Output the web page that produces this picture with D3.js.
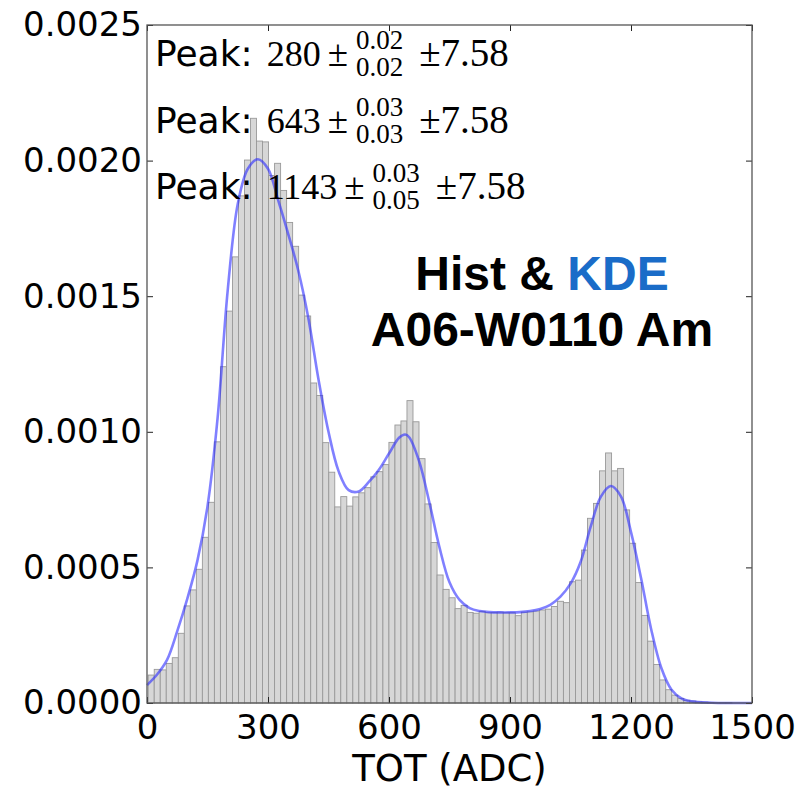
<!DOCTYPE html>
<html>
<head>
<meta charset="utf-8">
<script src="https://cdn.jsdelivr.net/npm/d3@7/dist/d3.min.js"></script>
<style>
  html, body { margin: 0; padding: 0; background: #fff; }
  svg { display: block; }
</style>
</head>
<body>
<svg id="chart" width="807" height="790"></svg>
<script>
// Histogram: 100 equal-width bins between the data min and max (TOT, ADC)
const binLo = 3;
const binHi = 1495;
const binDensity = [
  0.000103, 0.000124, 0.000122, 0.000146, 0.000167, 0.000257, 0.000358, 0.000417, 0.000493, 0.000611,
  0.000740, 0.000963, 0.001240, 0.001445, 0.001645, 0.001870, 0.002002, 0.002156, 0.002072, 0.002069,
  0.001945, 0.001990, 0.001890, 0.001772, 0.001684, 0.001504, 0.001427, 0.001180, 0.001134, 0.000960,
  0.000851, 0.000723, 0.000761, 0.000726, 0.000760, 0.000775, 0.000794, 0.000834, 0.000853, 0.000879,
  0.000961, 0.001025, 0.001040, 0.001115, 0.001037, 0.000901, 0.000734, 0.000592, 0.000472, 0.000419,
  0.000388, 0.000348, 0.000360, 0.000334, 0.000331, 0.000338, 0.000333, 0.000334, 0.000335, 0.000333,
  0.000333, 0.000322, 0.000335, 0.000336, 0.000339, 0.000343, 0.000346, 0.000356, 0.000375, 0.000370,
  0.000447, 0.000453, 0.000564, 0.000681, 0.000736, 0.000856, 0.000922, 0.000856, 0.000865, 0.000712,
  0.000589, 0.000444, 0.000323, 0.000228, 0.000142, 0.000085, 0.000049, 0.000029, 0.000017, 0.000010,
  0.000007, 0.000004, 0.000003, 0.000002, 0.000001, 0.000001, 0.000001, 0, 0, 0
];

// Kernel density estimate sampled along TOT
const kdeX = [0, 25, 50, 75, 100, 125, 150, 175, 200, 225, 250, 275, 300, 325, 350, 375, 400, 425, 450, 475,
  500, 525, 550, 575, 600, 625, 640, 650, 675, 700, 725, 750, 775, 800, 825, 850, 875, 900, 925, 950,
  975, 1000, 1025, 1050, 1075, 1100, 1125, 1150, 1175, 1200, 1225, 1250, 1275, 1300, 1325, 1350, 1400, 1450, 1500];
const kdeY = [0.000066, 0.000105, 0.000160, 0.000265, 0.000385, 0.000525, 0.000725, 0.001050, 0.001520, 0.001840,
  0.001970, 0.002005, 0.001970, 0.001855, 0.001730, 0.001595, 0.001420, 0.001195, 0.001000, 0.000855,
  0.000785, 0.000780, 0.000815, 0.000860, 0.000920, 0.000978, 0.000990, 0.000980, 0.000890, 0.000740,
  0.000575, 0.000445, 0.000380, 0.000350, 0.000339, 0.000335, 0.000334, 0.000334, 0.000335, 0.000339,
  0.000347, 0.000362, 0.000392, 0.000440, 0.000520, 0.000650, 0.000760, 0.000800, 0.000762, 0.000630,
  0.000460, 0.000272, 0.000130, 0.000050, 0.000017, 0.000006, 0.000001, 0, 0];

// Fitted peaks
const peakValues = [280, 643, 1143];
const peakErrUp = ["0.02", "0.03", "0.03"];
const peakErrDown = ["0.02", "0.03", "0.05"];
const peakSyst = ["7.58", "7.58", "7.58"];

const xTicks = [0, 300, 600, 900, 1200, 1500];
const yTicks = [0, 0.0005, 0.0010, 0.0015, 0.0020, 0.0025];

const svg = d3.select("#chart");
const m = { left: 147, right: 752, top: 25, bottom: 703 };

const x = d3.scaleLinear().domain([0, 1500]).range([m.left, m.right]);
const y = d3.scaleLinear().domain([0, 0.0025]).range([m.bottom, m.top]);

// Histogram bars
const binW = (binHi - binLo) / binDensity.length;
const bins = binDensity.map((v, i) => ({ x0: binLo + i * binW, x1: binLo + (i + 1) * binW, v }));
svg.append("g")
  .selectAll("rect")
  .data(bins)
  .join("rect")
  .attr("x", d => x(d.x0))
  .attr("width", d => x(d.x1) - x(d.x0))
  .attr("y", d => y(d.v))
  .attr("height", d => y(0) - y(d.v))
  .attr("fill", "#d7d7d7")
  .attr("stroke", "#999")
  .attr("stroke-width", 0.9);

// KDE curve
const kde = kdeX.map((t, i) => [t, kdeY[i]]);
svg.append("path")
  .datum(kde)
  .attr("fill", "none")
  .attr("stroke", "#2b2bff")
  .attr("stroke-opacity", 0.6)
  .attr("stroke-width", 2.6)
  .attr("d", d3.line().x(d => x(d[0])).y(d => y(Math.max(0, d[1]))).curve(d3.curveCatmullRom.alpha(0.5)));

// Axes with inward ticks on all four sides
const tickFont = "DejaVu Sans, sans-serif";
const fmtY = d3.format(".4f");
function styleAxis(g) {
  g.select(".domain").remove();
  g.selectAll(".tick line").attr("stroke", "#222").attr("stroke-width", 1);
  g.selectAll("text").attr("font-family", tickFont).attr("font-size", 34).attr("fill", "#000");
}
svg.append("g").attr("transform", `translate(0,${m.bottom})`)
  .call(d3.axisBottom(x).tickValues(xTicks).tickFormat(d3.format("d")).tickSizeInner(-6).tickSizeOuter(0).tickPadding(12))
  .call(styleAxis);
svg.append("g").attr("transform", `translate(0,${m.top})`)
  .call(d3.axisTop(x).tickValues(xTicks).tickFormat("").tickSizeInner(-6).tickSizeOuter(0))
  .call(styleAxis);
svg.append("g").attr("transform", `translate(${m.left},0)`)
  .call(d3.axisLeft(y).tickValues(yTicks).tickFormat(fmtY).tickSizeInner(-6).tickSizeOuter(0).tickPadding(5))
  .call(styleAxis);
svg.append("g").attr("transform", `translate(${m.right},0)`)
  .call(d3.axisRight(y).tickValues(yTicks).tickFormat("").tickSizeInner(-6).tickSizeOuter(0))
  .call(styleAxis);

// Frame
svg.append("rect")
  .attr("x", m.left).attr("y", m.top)
  .attr("width", m.right - m.left).attr("height", m.bottom - m.top)
  .attr("fill", "none").attr("stroke", "#555").attr("stroke-width", 1.3);

// Axis title
svg.append("text")
  .attr("x", (m.left + m.right) / 2).attr("y", 781)
  .attr("text-anchor", "middle")
  .attr("font-family", tickFont).attr("font-size", 37)
  .text("TOT (ADC)");

// Peak annotations: "Peak:" followed by value ±(up/down) ±syst
const serif = "Liberation Serif, 'Times New Roman', serif";
peakValues.forEach((p, i) => {
  const base = 66 + i * 66.5;
  const g = svg.append("g");
  let cx = 155;
  const lab = g.append("text").attr("x", cx).attr("y", base)
    .attr("font-family", tickFont).attr("font-size", 36).text("Peak:");
  cx += lab.node().getComputedTextLength() + 14;
  const val = g.append("text").attr("x", cx).attr("y", base)
    .attr("font-family", serif).attr("font-size", 36).text(String(p));
  cx += val.node().getComputedTextLength() + 7;
  const pm = g.append("text").attr("x", cx).attr("y", base)
    .attr("font-family", serif).attr("font-size", 37).text("±");
  cx += pm.node().getComputedTextLength() + 8;
  const up = g.append("text").attr("x", cx).attr("y", base - 17)
    .attr("font-family", serif).attr("font-size", 27).text(peakErrUp[i]);
  const dn = g.append("text").attr("x", cx).attr("y", base + 10)
    .attr("font-family", serif).attr("font-size", 27).text(peakErrDown[i]);
  cx += Math.max(up.node().getComputedTextLength(), dn.node().getComputedTextLength()) + 16;
  g.append("text").attr("x", cx).attr("y", base)
    .attr("font-family", serif).attr("font-size", 39).text("±" + peakSyst[i]);
});

// Title block
const titleFont = "Liberation Sans, Arial, Helvetica, sans-serif";
const t1 = svg.append("text")
  .attr("x", 542).attr("y", 290)
  .attr("text-anchor", "middle")
  .attr("font-family", titleFont).attr("font-weight", "bold").attr("font-size", 48);
t1.append("tspan").attr("fill", "#000").text("Hist & ");
t1.append("tspan").attr("fill", "#1a6cc8").text("KDE");
svg.append("text")
  .attr("x", 542).attr("y", 346)
  .attr("text-anchor", "middle")
  .attr("font-family", titleFont).attr("font-weight", "bold").attr("font-size", 48)
  .attr("fill", "#000")
  .text("A06-W0110 Am");
</script>
</body>
</html>
